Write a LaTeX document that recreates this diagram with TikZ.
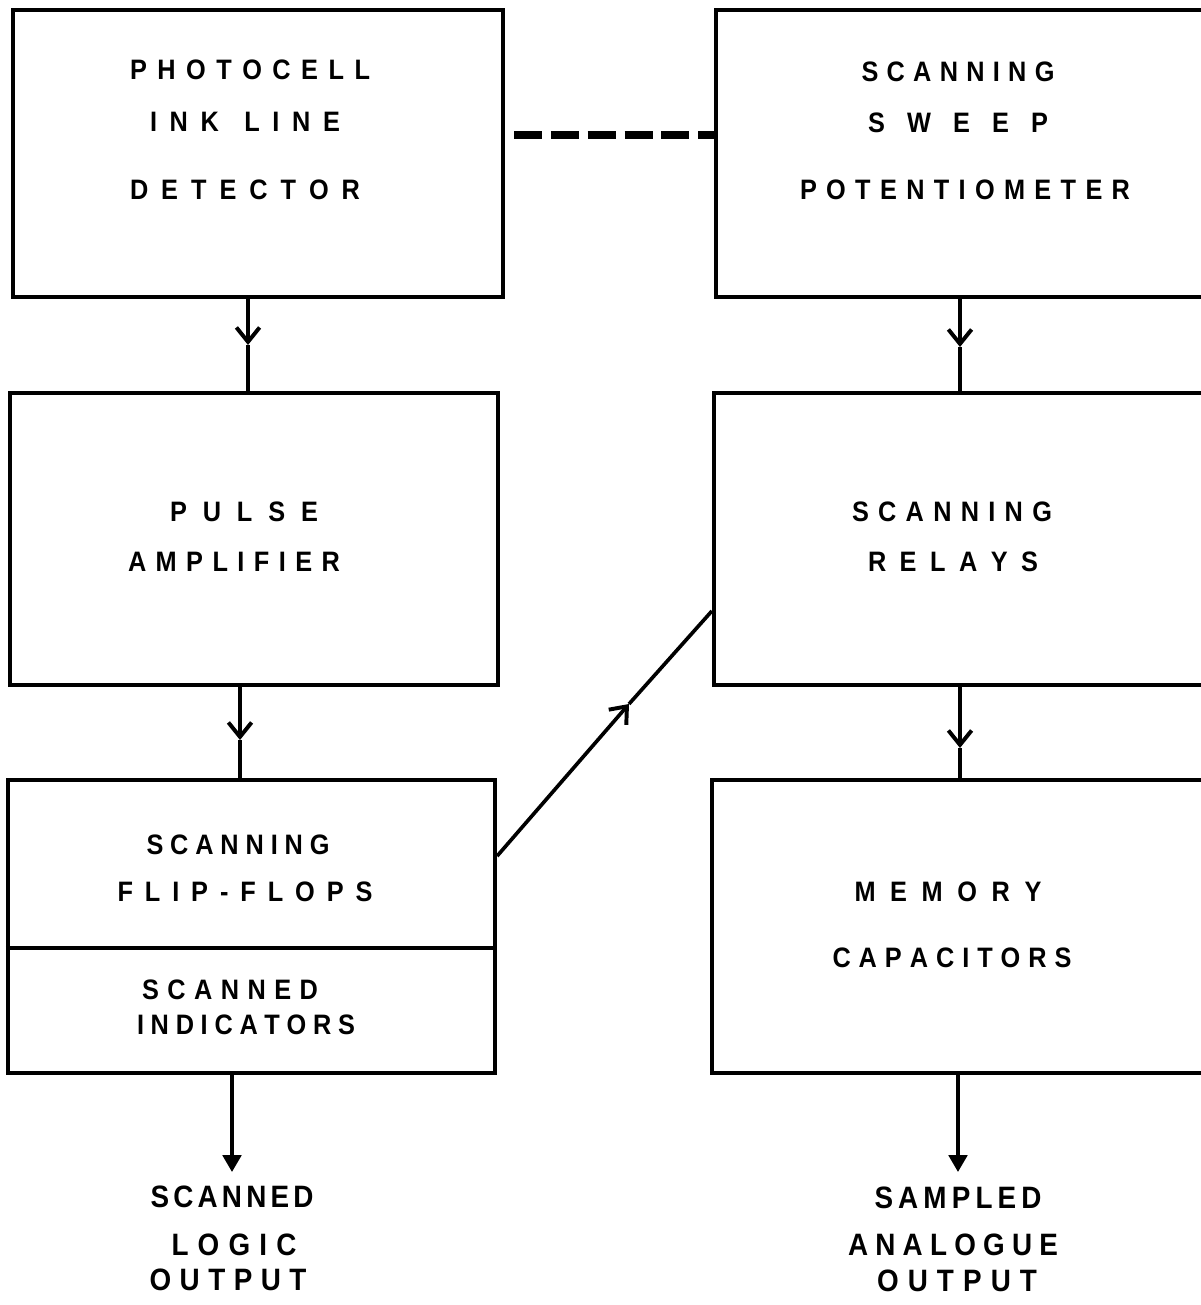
\documentclass[tikz,border=0pt]{standalone}
\usepackage{fontspec}
\setmainfont{Liberation Sans}[FakeStretch=0.9]
\usetikzlibrary{arrows.meta,fit,calc}
\newcommand\spr[2]{\makebox[\dimexpr 0.025cm*#1\relax][s]{\spaceskip=0pt plus 1fil minus 1fil\relax #2}}
\tikzset{
  box/.style={draw, line width=3pt, inner sep=0pt, fit={#1}},
  conn/.style={line width=2.6pt},
  vee/.style={-{Straight Barb[length=0.36cm,width=0.58cm,line width=2.8pt]}},
  tri/.style={-{Triangle[length=0.42cm,width=0.46cm]}},
  lbl/.style={inner sep=0pt, font=\bfseries\fontsize{20}{24}\selectfont},
  olbl/.style={inner sep=0pt, font=\bfseries\fontsize{22}{26}\selectfont},
}
\begin{document}
\begin{tikzpicture}[x=0.025cm,y=-0.025cm]
\useasboundingbox (0,0) rectangle (1201,1305);
\fill[white] (0,0) rectangle (1201,1305);
% boxes
\node[box={(13,10) (503,297)}] (A) {};
\node[box={(716,10) (1220,297)}] (B) {};
\node[box={(10,393) (498,685)}] (C) {};
\node[box={(714,393) (1220,685)}] (D) {};
\node[box={(8,780) (495,1073)}] (E) {};
\node[box={(712,780) (1220,1073)}] (F) {};
\draw[line width=3pt] ($(E.north west)!0.573!(E.south west)$) -- ($(E.north east)!0.573!(E.south east)$);
% texts
\node[lbl] (a1) at (250,70) {\spr{240}{P H O T O C E L L}};
\node[lbl] (a2) at (245,122) {\spr{190}{I N K\ \ L I N E}};
\node[lbl] (a3) at (245,190) {\spr{230}{D E T E C T O R}};
\node[lbl] (b1) at (958,72) {\spr{193}{S C A N N I N G}};
\node[lbl] (b2) at (958,123) {\spr{180}{S W E E P}};
\node[lbl] (b3) at (965,190) {\spr{330}{P O T E N T I O M E T E R}};
\node[lbl] (c1) at (244,512) {\spr{148}{P U L S E}};
\node[lbl] (c2) at (234,562) {\spr{212}{A M P L I F I E R}};
\node[lbl] (d1) at (952,512) {\spr{200}{S C A N N I N G}};
\node[lbl] (d2) at (953,562) {\spr{170}{R E L A Y S}};
\node[lbl] (e1) at (238,845) {\spr{183}{S C A N N I N G}};
\node[lbl] (e2) at (245,892) {\spr{255}{F L I P - F L O P S}};
\node[lbl] (e3) at (230,990) {\spr{176}{S C A N N E D}};
\node[lbl] (e4) at (246,1025) {\spr{218}{I N D I C A T O R S}};
\node[lbl] (f1) at (948,892) {\spr{187}{M E M O R Y}};
\node[lbl] (f2) at (952,958) {\spr{239}{C A P A C I T O R S}};
\node[olbl] (o1) at (232,1197) {\spr{163}{S C A N N E D}};
\node[olbl] (o2) at (234,1245) {\spr{125}{L O G I C}};
\node[olbl] (o3) at (228,1280) {\spr{157}{O U T P U T}};
\node[olbl] (p1) at (958,1198) {\spr{167}{S A M P L E D}};
\node[olbl] (p2) at (953,1245) {\spr{210}{A N A L O G U E}};
\node[olbl] (p3) at (957,1281) {\spr{160}{O U T P U T}};
% helper coordinates
\coordinate (xa) at (248,0);
\coordinate (xb) at (960,0);
\coordinate (xc) at (240,0);
\coordinate (xe) at (232,0);
\coordinate (xf) at (958,0);
\coordinate (ha) at (248,345);
\coordinate (hb) at (960,347);
\coordinate (hc) at (240,740);
\coordinate (hd) at (960,748);
\coordinate (hx) at (629,704);
\coordinate (te) at (232,1172);
\coordinate (tf) at (958,1172);
% dashed link
\draw[line width=5pt, dash pattern=on 0.7cm off 0.22cm] ($(A.east |- 0,135)+(9,0)$) -- (B.west |- 0,135);
% connectors
\draw[conn,vee] (A.south -| xa) -- (ha);
\draw[conn] (ha) -- (C.north -| xa);
\draw[conn,vee] (B.south -| xb) -- (hb);
\draw[conn] (hb) -- (D.north -| xb);
\draw[conn,vee] (C.south -| xc) -- (hc);
\draw[conn] (hc) -- (E.north -| xc);
\draw[conn,vee] (D.south -| xb) -- (hd);
\draw[conn] (hd) -- (F.north -| xb);
\draw[conn,vee] ($(E.north east)!0.263!(E.south east)$) -- (hx);
\draw[conn] (hx) -- ($(D.north west)!0.743!(D.south west)$);
\draw[conn,tri] (E.south -| xe) -- (te);
\draw[conn,tri] (F.south -| xf) -- (tf);
\end{tikzpicture}
\end{document}
